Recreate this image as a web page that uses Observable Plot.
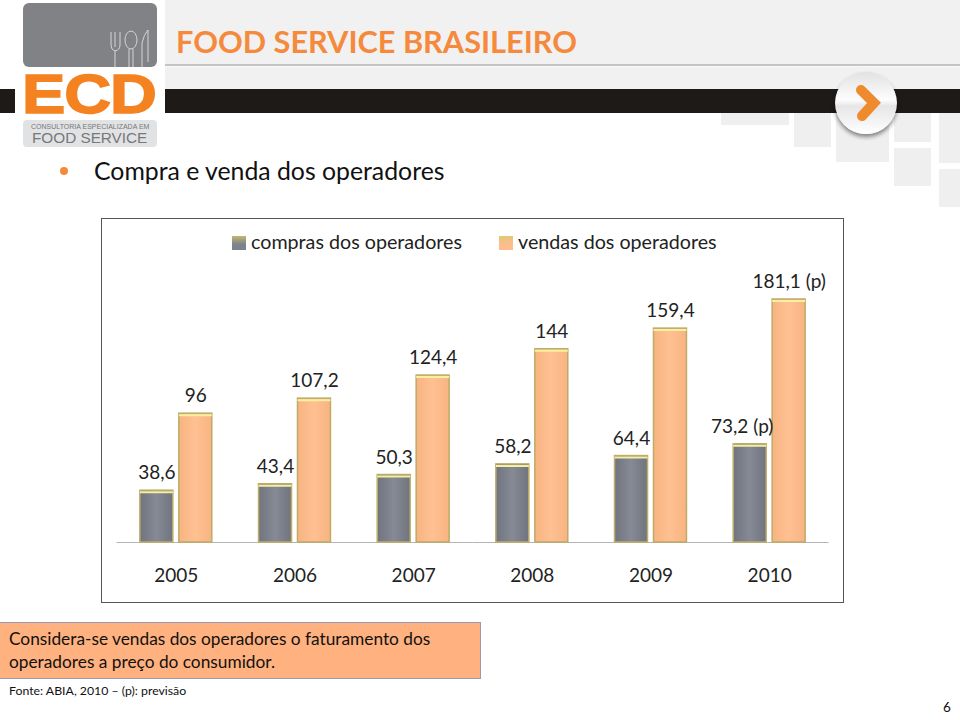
<!DOCTYPE html>
<html><head><meta charset="utf-8">
<script src="https://cdn.jsdelivr.net/npm/d3@7"></script>
<script src="https://cdn.jsdelivr.net/npm/@observablehq/plot@0.6"></script>
<style>
html,body{margin:0;padding:0;background:#fff;}
#page{position:relative;width:960px;height:720px;overflow:hidden;font-family:Lato,sans-serif;}
#page>*{position:absolute;}
#chart{left:0;top:0;}
.sq{background:#efefef;}
</style></head><body><div id="page">
<div style="left:165px;top:0;width:795px;height:90px;background:#f1f1f1"></div>
<div class="sq" style="left:721px;top:113px;width:68px;height:12px"></div>
<div class="sq" style="left:794px;top:113px;width:37px;height:34px"></div>
<div class="sq" style="left:836px;top:113px;width:53px;height:49px"></div>
<div class="sq" style="left:894px;top:113px;width:37px;height:29px"></div>
<div class="sq" style="left:894px;top:148px;width:37px;height:38px"></div>
<div class="sq" style="left:939px;top:113px;width:21px;height:50px"></div>
<div class="sq" style="left:939px;top:169px;width:21px;height:38px"></div>
<div style="left:165px;top:64px;width:795px;height:2px;background:#c4c4c4"></div>
<div style="left:165px;top:66px;width:795px;height:1px;background:#fafafa"></div>
<div style="left:0;top:89px;width:960px;height:24px;background:#1e1a18"></div>
<div style="left:15px;top:0;width:150px;height:195px;background:#fff"></div>
<div style="left:23px;top:3px;width:134px;height:64px;background:#808285;border-radius:6px"></div>
<svg style="left:105px;top:25px" width="50" height="42" fill="none" stroke="#d5d5d5" stroke-width="1">
<path d="M6 7v13q0 5 4 6v16M15 7v13q0 5-5 6M10 7v15M24 42V24"/><ellipse cx="26" cy="15" rx="6" ry="9"/><path d="M28 42V24M37 42V18q2-9 6-13v32"/></svg>
<div style="left:22px;top:72px;color:#f58220;font:700 56px/44px 'Liberation Sans',sans-serif;-webkit-text-stroke:1.5px #f58220;letter-spacing:-1px;white-space:nowrap;transform-origin:0 0;transform:scaleX(1.16)">ECD</div>
<div style="left:23px;top:120px;width:134px;height:27px;background:#e1e2e3;border-radius:4px"></div>
<div style="left:31px;top:123px;font:7px/7px 'Liberation Sans',sans-serif;color:#77787b;white-space:nowrap">CONSULTORIA ESPECIALIZADA EM</div>
<div style="left:32px;top:131px;font:15.3px/13px 'Liberation Sans',sans-serif;color:#77787b;white-space:nowrap">FOOD SERVICE</div>
<div style="left:176px;top:24px;font:700 30.7px/36px Lato,sans-serif;color:#f58a3c;white-space:nowrap">FOOD SERVICE BRASILEIRO</div>
<div style="left:835px;top:72px;width:62px;height:62px;border-radius:50%;background:linear-gradient(#e2e2e2,#fdfdfd 45%,#e6e6e6 55%,#fff);box-shadow:0 3px 4px rgba(0,0,0,.45)"></div>
<svg style="left:850px;top:80px" width="34" height="46"><path d="M11 10 L24 23 L12 36" fill="none" stroke="#ee8b2f" stroke-width="10" stroke-linecap="round" stroke-linejoin="miter"/></svg>
<div style="left:60px;top:167px;width:8px;height:8px;border-radius:50%;background:#f58a3c"></div>
<div style="left:94px;top:156px;font:400 24.8px/30px Lato,sans-serif;color:#111;white-space:nowrap">Compra e venda dos operadores</div>
<div style="left:101px;top:218px;width:741px;height:383px;border:1px solid #555;background:#fff"></div>
<div id="chart"></div>
<div style="left:-1px;top:622px;width:480px;height:55px;background:#ffb27f;border:1px solid #9a9ab4"></div>
<div style="left:9px;top:628px;font:400 17.3px/22.5px Lato,sans-serif;color:#111;white-space:nowrap">Considera-se vendas dos operadores o faturamento dos<br>operadores a preço do consumidor.</div>
<div style="left:9px;top:683px;font:400 12.3px/16px Lato,sans-serif;color:#111;white-space:nowrap">Fonte: ABIA, 2010 – (p): previsão</div>
<div style="left:943px;top:699px;font:400 13.5px/16px Lato,sans-serif;color:#111">6</div>
</div>
<script>
const years = ["2005","2006","2007","2008","2009","2010"];
const seriesNames = ["compras dos operadores","vendas dos operadores"];
const compras = [38.6,43.4,50.3,58.2,64.4,73.2];
const vendas = [96,107.2,124.4,144,159.4,181.1];
const comprasLabels = ["38,6","43,4","50,3","58,2","64,4","73,2 (p)"];
const vendasLabels = ["96","107,2","124,4","144","159,4","181,1 (p)"];
const rows = [];
years.forEach((y,i)=>{
  rows.push({year:y,series:seriesNames[0],value:compras[i],label:comprasLabels[i]});
  rows.push({year:y,series:seriesNames[1],value:vendas[i],label:vendasLabels[i]});
});
const colors = ["#7d828c","#ffbc8c"];
const chart = Plot.plot({
  width:960,height:720,
  marginLeft:116.5,marginRight:131.5,marginTop:299,marginBottom:178,
  style:{background:"transparent",fontFamily:"Lato,sans-serif"},
  fx:{domain:years,padding:0,round:false,axis:null},
  x:{domain:seriesNames,paddingInner:0.154,paddingOuter:0.6,round:false,axis:null},
  y:{domain:[0,181.1],axis:null},
  marks:[
    Plot.ruleY([0],{stroke:"#b5b5b5"}),
    Plot.barY(rows,{fx:"year",x:"series",y:"value",
      fill:d=>d.series===seriesNames[0]?"url(#gGray)":"url(#gOrange)",
      stroke:"#bdab66",strokeWidth:1.5,
      style:{filter:"drop-shadow(1px 1px 1px rgba(0,0,0,.3))"}}),
    Plot.tickY(rows,{fx:"year",x:"series",y:"value",stroke:"#f6f0a0",strokeWidth:2,dy:1.5}),
    Plot.text(rows.filter(d=>d.label!=="73,2 (p)"),{fx:"year",x:"series",y:"value",text:"label",dy:-17.5,fill:"#222",fontSize:19}),
    Plot.text(rows.filter(d=>d.label==="73,2 (p)"),{fx:"year",x:"series",y:"value",text:"label",dy:-17.5,dx:-8,fill:"#222",fontSize:19}),
    Plot.text(years,{fx:d=>d,text:d=>d,frameAnchor:"bottom",dy:39,fill:"#222",fontSize:19})
  ]
});
const defs = d3.select(chart).insert("defs",":first-child");
[["gGray","#6f747e","#858a94"],["gOrange","#f8b482","#ffc092"]].forEach(([id,a,b])=>{
  const g=defs.append("linearGradient").attr("id",id).attr("x1",0).attr("x2",1).attr("y1",0).attr("y2",0);
  g.append("stop").attr("offset","0").attr("stop-color",a);
  g.append("stop").attr("offset","0.5").attr("stop-color",b);
  g.append("stop").attr("offset","1").attr("stop-color",a);
});
document.getElementById("chart").append(chart);
const page=document.getElementById("page");
[[232,251,colors[0],"#c2b96d"],[499,518,colors[1],"#e0c878"]].forEach(([sx,tx,c,tc],i)=>{
  const s=document.createElement("div");
  s.style.cssText=`left:${sx}px;top:236px;width:14px;height:14px;background:linear-gradient(${tc},${c} 60%)`;
  page.append(s);
  const t=document.createElement("div");
  t.style.cssText=`left:${tx}px;top:230px;font:400 19.7px/24px Lato,sans-serif;color:#222;white-space:nowrap`;
  t.textContent=seriesNames[i];
  page.append(t);
});
</script></body></html>
